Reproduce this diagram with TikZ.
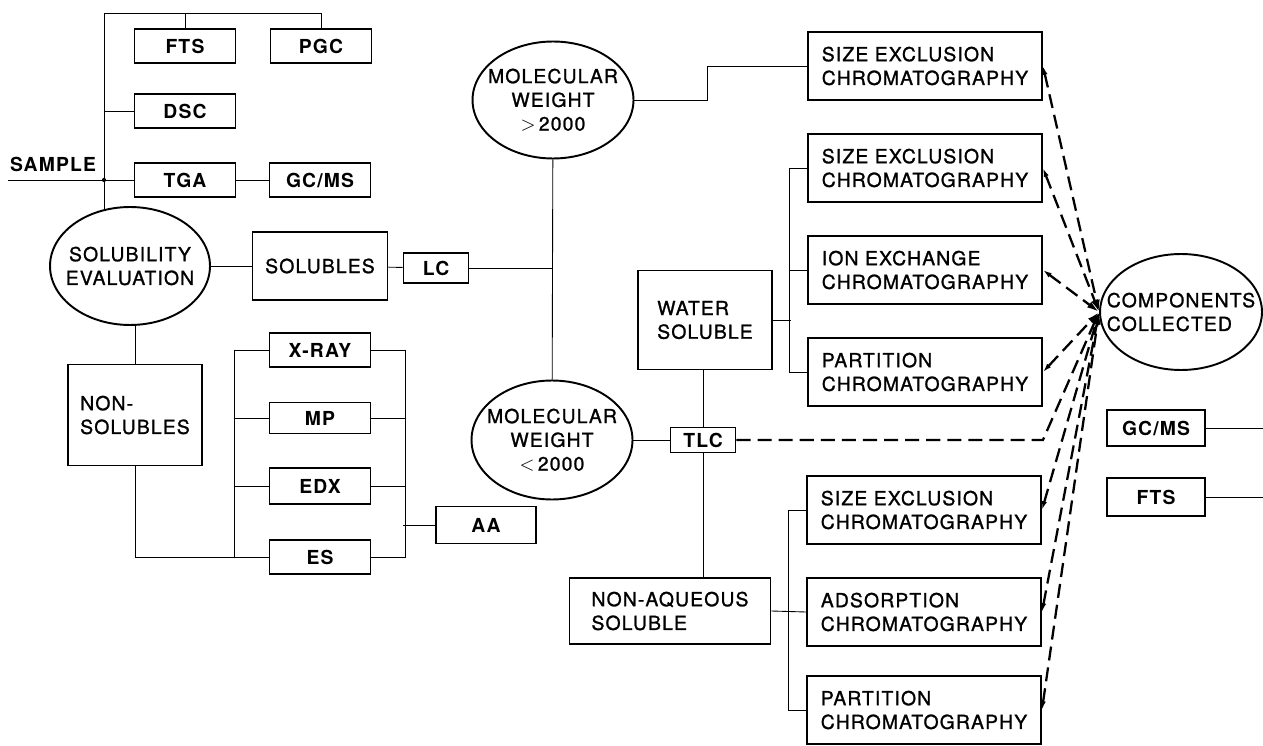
\documentclass[tikz,border=0pt]{standalone}
\usepackage{fontspec}
\setmainfont{TeX Gyre Heros}[LetterSpace=6]
\newfontfamily\medfont{TeX Gyre Heros}[LetterSpace=6, FakeBold=1.2]
\usepackage{tikz}
\usetikzlibrary{arrows.meta,positioning,shapes.geometric}

\tikzset{
    lab/.style={font=\fontsize{11}{13.5}\selectfont\medfont},
    boldlab/.style={font=\fontsize{11}{13.5}\selectfont\bfseries},
    box/.style={draw, line width=1.1pt, rectangle, inner sep=0pt, minimum width=2.02cm, minimum height=0.68cm, boldlab},
    bigbox/.style={draw, line width=1.1pt, rectangle, inner sep=0pt, align=left, lab},
    chrom/.style={bigbox, minimum width=4.68cm, minimum height=1.36cm},
    oval/.style={draw, line width=1.1pt, ellipse, align=center, inner xsep=-14pt, inner ysep=0pt, minimum width=3.22cm, minimum height=2.34cm, lab},
    link/.style={line width=0.5pt},
    recycle/.style={line width=1.3pt, dash pattern=on 8pt off 4pt, {Latex[length=5pt,width=3pt]}-{Latex[length=7pt,width=4pt]}},
    tlcreturn/.style={line width=1.3pt, dash pattern=on 8pt off 4pt, -{Latex[length=7pt,width=4pt]}}
}

\begin{document}
\begin{tikzpicture}[x=0.02cm, y=-0.02cm]
    \useasboundingbox (0,0) rectangle (1263,746);

    % Sample and direct tests
    \node[boldlab] (samplelabel) at (53,164) {SAMPLE};
    \coordinate (sample) at (8,180);
    \coordinate (bus) at (104,13);
    \node[box] (fts) at (185,46) {FTS};
    \node[box] (pgc) at (321,46) {PGC};
    \node[box] (dsc) at (185,111) {DSC};
    \node[box] (tga) at (185,180) {TGA};
    \node[box] (gcms) at (320,180) {GC/MS};

    % Solubility split
    \node[oval, minimum width=3.2cm, minimum height=2.36cm] (sol) at (130,266) {SOLUBILITY\\EVALUATION};
    \node[bigbox, minimum width=2.7cm, minimum height=1.36cm] (solubles) at (320,266) {SOLUBLES};
    \node[box, minimum width=1.3cm, minimum height=0.6cm] (lc) at (436,268) {LC};
    \node[bigbox, minimum width=2.68cm, minimum height=2.02cm] (nonsol) at (135,415) {NON-\\SOLUBLES};

    % Non-solubles tests
    \node[box] (xray) at (320,350) {X-RAY};
    \node[box, minimum height=0.62cm] (mp) at (320,418) {MP};
    \node[box, minimum height=0.72cm] (edx) at (320,486) {EDX};
    \node[box] (es) at (320,557) {ES};
    \node[box, minimum width=2cm, minimum height=0.74cm] (aa) at (486,525) {AA};

    % Molecular weight
    \node[oval] (mwhigh) at (553,100) {MOLECULAR\\WEIGHT\\$>$\,2000};
    \node[oval, minimum height=2.38cm] (mwlow) at (552,440) {MOLECULAR\\WEIGHT\\$<$\,2000};
    \node[box, minimum width=1.3cm, minimum height=0.5cm] (tlc) at (703,440) {TLC};
    \node[bigbox, minimum width=2.68cm, minimum height=1.98cm] (water) at (705,320) {WATER\\SOLUBLE};
    \node[bigbox, minimum width=4.02cm, minimum height=1.32cm] (nonaq) at (670,611) {NON-AQUEOUS\\SOLUBLE};

    % Chromatography
    \node[chrom] (sec1) at (925,66) {SIZE EXCLUSION\\CHROMATOGRAPHY};
    \node[chrom] (sec2) at (925,168) {SIZE EXCLUSION\\CHROMATOGRAPHY};
    \node[chrom] (ion) at (925,270) {ION EXCHANGE\\CHROMATOGRAPHY};
    \node[chrom] (part1) at (925,372) {PARTITION\\CHROMATOGRAPHY};
    \node[chrom] (sec3) at (924,510) {SIZE EXCLUSION\\CHROMATOGRAPHY};
    \node[chrom] (ads) at (924,612) {ADSORPTION\\CHROMATOGRAPHY};
    \node[chrom] (part2) at (924,710) {PARTITION\\CHROMATOGRAPHY};

    % Collected components
    \node[oval, align=left, minimum width=3.24cm, minimum height=2.32cm] (comp) at (1181,312) {COMPONENTS\\COLLECTED};
    \node[box, minimum width=1.96cm, minimum height=0.72cm] (gcms2) at (1156,428) {GC/MS};
    \node[box, minimum width=1.96cm, minimum height=0.76cm] (fts2) at (1156,497) {FTS};

    % Connectors, left part
    \draw[link] (sample) -- (tga.west);
    \fill (sample -| bus) circle (1.2pt);
    \draw[link] (104,210) -- (bus) -| (pgc.north);
    \draw[link] (fts.north) -- (fts.north |- bus);
    \draw[link] (dsc.west) -- (dsc.west -| bus);
    \draw[link] (tga) -- (gcms);
    \draw[link] (sol) -- (solubles);
    \draw[link] (solubles) -- (lc);
    \draw[link] (nonsol.north) -- (nonsol.north |- sol.south);
    \draw[link] (nonsol.south) |- (es.west);
    \draw[link] (xray.west) -- ++(-34,0) |- (es.west);
    \foreach \t in {mp, edx} {
        \draw[link] (\t.west) -- ++(-34,0);
        \draw[link] (\t.east) -- ++(34,0);
    }
    \draw[link] (xray.east) -- ++(34,0) |- (es.east);
    \draw[link] (aa.west) -- ++(-32,0);

    % Connectors, middle part
    \draw[link] (lc.east) -- (lc.east -| mwhigh.south);
    \draw[link] (mwhigh) -- (mwlow);
    \draw[link] (mwhigh.east) -- ++(73,0) |- (sec1.west);
    \draw[link] (mwlow) -- (tlc);
    \draw[link] (water.south -| tlc.north) -- (tlc.north);
    \draw[link] (tlc.south) -- (tlc.south |- nonaq.north);
    \draw[link] (sec2.west) -- ++(-18,0) |- (part1.west);
    \draw[link] (ion.west) -- ++(-18,0);
    \draw[link] (water.east) -- ++(18,0);
    \draw[link] (sec3.west) -- ++(-18,0) |- (part2.west);
    \draw[link] (nonaq.east) -- (ads.west);

    % Dashed returns
    \foreach \c in {sec1, sec2, ion, part1, sec3, ads, part2} {
        \draw[recycle] (\c.east) -- (comp.west);
    }
    \draw[tlcreturn] (tlc.east) -- (tlc.east -| sec1.east) -- (comp.west);

    % Outputs
    \draw[link] (gcms2.east) -- ++(58,0);
    \draw[link] (fts2.east) -- ++(58,0);
\end{tikzpicture}
\end{document}
